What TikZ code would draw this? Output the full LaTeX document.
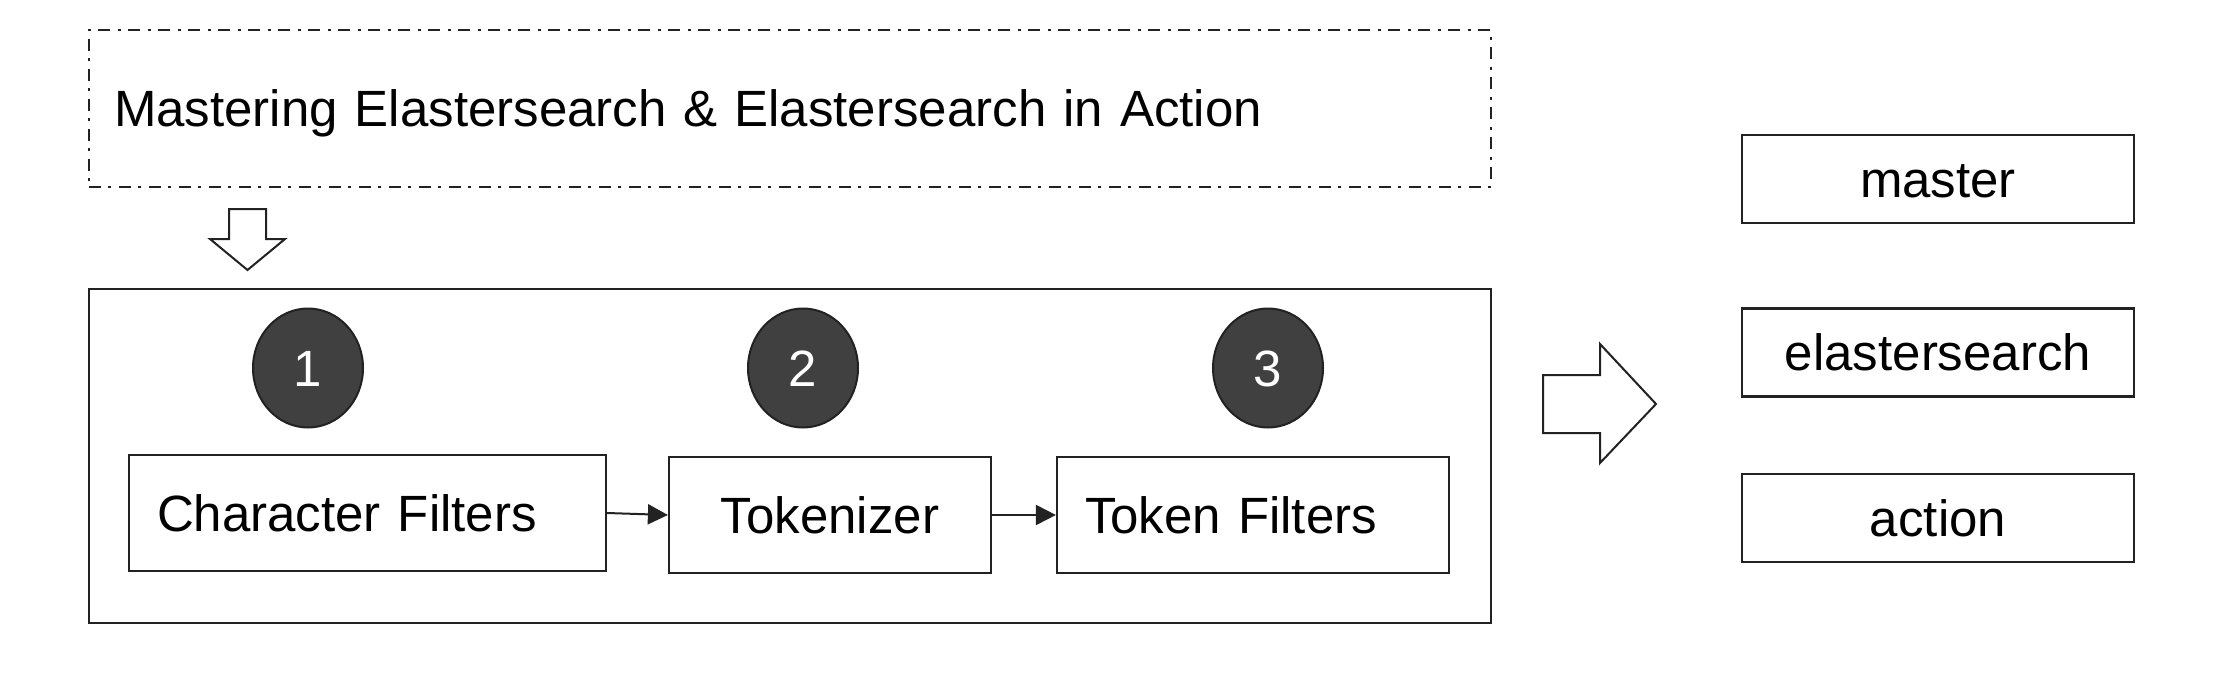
\documentclass[tikz,border=0pt]{standalone}
\usepackage{fontspec}
\setmainfont{Liberation Sans}
\usetikzlibrary{shapes.geometric,arrows.meta}
\definecolor{ink}{HTML}{222222}
\definecolor{disc}{HTML}{404040}
\begin{document}
\begin{tikzpicture}[x=1pt,y=-1pt,
  every node/.style={font=\fontsize{51}{61}\selectfont, text height=36.5pt, text depth=0pt},
  frame/.style={draw=ink, line width=2.5pt, rectangle, inner sep=0pt},
  stepbox/.style={draw=ink, line width=2.2pt, rectangle, inner ysep=0pt, minimum height=116pt},
  leftbox/.style={stepbox, align=left, inner xsep=28pt},
  outbox/.style={draw=ink, line width=2.2pt, rectangle, inner sep=0pt, minimum width=392pt, minimum height=88pt},
  num/.style={ellipse, draw=ink, line width=2pt, fill=disc, text=white, inner sep=0pt, minimum width=110pt, minimum height=119pt},
  flow/.style={draw=ink, line width=2pt, -{Triangle[length=20pt,width=20pt]}},
  fat/.style={draw=ink, line width=2pt, fill=white, line join=miter}
]
\useasboundingbox (0,0) rectangle (2222,682);

% input text box (dash-dot)
\node[frame, dash pattern=on 12pt off 7pt on 3pt off 8pt, minimum width=1402pt, minimum height=157pt,
      text width=1352pt, inner xsep=25pt, align=left] (input) at (790,108.5)
      {Mastering Elastersearch \& Elastersearch in Action};

% down arrow
\draw[fat] (229,209) -- (266,209) -- (266,239) -- (285,239) -- (247.5,270) -- (210,239) -- (229,239) -- cycle;

% analyzer frame
\node[frame, minimum width=1402pt, minimum height=334pt] (analyzer) at (790,456) {};

% step numbers
\node[num] (n1) at (308,368) {1};
\node[num] (n2) at (803,368) {2};
\node[num] (n3) at (1268,368) {3};

% steps
\node[leftbox, text width=421pt] (cf) at (367.5,513) {Character Filters};
\node[stepbox, minimum width=322pt, inner xsep=0pt] (tok) at (830,515) {Tokenizer};
\node[leftbox, text width=336pt] (tf) at (1253,515) {Token Filters};

\draw[flow] (cf.east) -- (tok.west);
\draw[flow] (tok.east) -- (tf.west);

% right arrow
\draw[fat] (1543,375) -- (1600,375) -- (1600,344) -- (1656,404) -- (1600,463) -- (1600,433) -- (1543,433) -- cycle;

% output terms
\node[outbox] (t1) at (1938,179) {master};
\node[outbox] (t2) at (1938,352.5) {elastersearch};
\node[outbox] (t3) at (1938,518) {action};
\end{tikzpicture}
\end{document}
